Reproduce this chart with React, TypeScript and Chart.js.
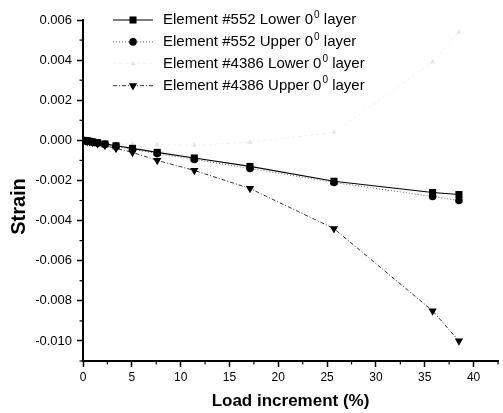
import React, { useEffect, useRef } from 'react';
import { Chart, registerables } from 'chart.js';

Chart.register(...registerables);

// ---- data ----
const loadIncrement = [0, 0.3, 0.44, 0.67, 1.0, 1.5, 2.25, 3.38, 5.07, 7.6, 11.4, 17.1, 25.7, 35.8, 38.5];
const e552Lower = [0, -0.00002, -0.00003, -0.00005, -0.00008, -0.00012, -0.00018, -0.00027, -0.0004, -0.0006, -0.00088, -0.0013, -0.00204, -0.0026, -0.0027];
const e552Upper = [0, -0.00002, -0.00003, -0.00005, -0.00008, -0.00013, -0.0002, -0.0003, -0.00045, -0.00066, -0.00095, -0.0014, -0.0021, -0.0028, -0.003];
const e4386Lower = [0, -0.00001, -0.00002, -0.00003, -0.00005, -0.00007, -0.0001, -0.00014, -0.00018, -0.00022, -0.00024, -0.0001, 0.0004, 0.0039, 0.0054];
const e4386Upper = [0, -0.00003, -0.00005, -0.00007, -0.00011, -0.00017, -0.00026, -0.0004, -0.0006, -0.001, -0.0015, -0.0024, -0.0044, -0.0085, -0.01];

const legendLabels = ['Element #552 Lower 0', 'Element #552 Upper 0', 'Element #4386 Lower 0', 'Element #4386 Upper 0'];
const legendSup = '0';
const legendSuffix = ' layer';
const xTitle = 'Load increment (%)';
const yTitle = 'Strain';

const FONT = '"Liberation Sans", Arial, Helvetica, sans-serif';

function toPoints(ys: number[]) {
  return ys.map((y, i) => ({ x: loadIncrement[i], y }));
}

function drawMarker(ctx: CanvasRenderingContext2D, style: string, rot: number, x: number, y: number, r: number, color: string) {
  ctx.save();
  ctx.fillStyle = color;
  ctx.strokeStyle = color;
  ctx.beginPath();
  if (style === 'rect') {
    const s = Math.SQRT1_2 * r;
    ctx.rect(x - s, y - s, 2 * s, 2 * s);
  } else if (style === 'circle') {
    ctx.arc(x, y, r, 0, Math.PI * 2);
  } else {
    const a0 = (rot * Math.PI) / 180;
    for (let k = 0; k < 3; k++) {
      const a = a0 + (k * 2 * Math.PI) / 3;
      const px = x + Math.sin(a) * r;
      const py = y - Math.cos(a) * r;
      if (k === 0) ctx.moveTo(px, py);
      else ctx.lineTo(px, py);
    }
    ctx.closePath();
  }
  ctx.fill();
  ctx.restore();
}

const decorPlugin = {
  id: 'decor',
  afterDraw(chart: any) {
    const ctx: CanvasRenderingContext2D = chart.ctx;
    const area = chart.chartArea;
    const xs = chart.scales.x;
    const ys = chart.scales.y;
    ctx.save();
    // minor ticks
    ctx.strokeStyle = '#000';
    ctx.lineWidth = 1.2;
    for (let v = 2.5; v <= xs.max; v += 5) {
      const px = xs.getPixelForValue(v);
      ctx.beginPath();
      ctx.moveTo(px, area.bottom);
      ctx.lineTo(px, area.bottom + 3.5);
      ctx.stroke();
    }
    for (let k = -11; k <= 6; k += 2) {
      const v = k * 0.001;
      if (v < ys.min || v > ys.max) continue;
      const py = ys.getPixelForValue(v);
      ctx.beginPath();
      ctx.moveTo(area.left, py);
      ctx.lineTo(area.left - 3.5, py);
      ctx.stroke();
    }
    // axis titles
    ctx.fillStyle = '#000';
    ctx.textAlign = 'center';
    ctx.textBaseline = 'middle';
    ctx.font = 'bold 17px ' + FONT;
    ctx.fillText(xTitle, (area.left + area.right) / 2, 401);
    ctx.save();
    ctx.translate(19, chart.height / 2);
    ctx.rotate(-Math.PI / 2);
    ctx.font = 'bold 20px ' + FONT;
    ctx.fillText(yTitle, 0, 0);
    ctx.restore();

    // legend
    const x0 = area.left + 30;
    legendLabels.forEach((label, i) => {
      const ds = chart.data.datasets[i];
      const y = area.top + i * 21.9;
      ctx.save();
      ctx.strokeStyle = ds.borderColor;
      ctx.lineWidth = ds.borderWidth;
      ctx.setLineDash(ds.borderDash || []);
      ctx.beginPath();
      ctx.moveTo(x0, y);
      ctx.lineTo(x0 + 40, y);
      ctx.stroke();
      ctx.restore();
      drawMarker(ctx, ds.pointStyle, ds.pointRotation || 0, x0 + 20, y, ds.pointRadius, ds.pointBackgroundColor);
      ctx.fillStyle = '#000';
      ctx.textAlign = 'left';
      ctx.textBaseline = 'middle';
      ctx.font = '15px ' + FONT;
      const tx = x0 + 50;
      ctx.fillText(label, tx, y);
      const w1 = ctx.measureText(label).width;
      ctx.font = '10px ' + FONT;
      ctx.fillText(legendSup, tx + w1 + 1, y - 5);
      const w2 = ctx.measureText(legendSup).width;
      ctx.font = '15px ' + FONT;
      ctx.fillText(legendSuffix, tx + w1 + 1 + w2, y);
    });
    ctx.restore();
  },
};

export default function App() {
  const ref = useRef<HTMLCanvasElement | null>(null);
  useEffect(() => {
    document.body.style.margin = '0';
    const canvas = ref.current;
    if (!canvas) return;
    const chart = new Chart(canvas, {
      type: 'line',
      data: {
        datasets: [
          {
            label: legendLabels[0],
            data: toPoints(e552Lower),
            borderColor: '#000',
            borderWidth: 1.2,
            pointStyle: 'rect',
            pointRadius: 5,
            pointBackgroundColor: '#000',
            pointBorderColor: '#000',
            pointBorderWidth: 0,
          },
          {
            label: legendLabels[1],
            data: toPoints(e552Upper),
            borderColor: '#666',
            borderWidth: 1,
            borderDash: [1, 2],
            pointStyle: 'circle',
            pointRadius: 3.8,
            pointBackgroundColor: '#000',
            pointBorderColor: '#000',
            pointBorderWidth: 0,
          },
          {
            label: legendLabels[2],
            data: toPoints(e4386Lower),
            borderColor: '#f3f3f3',
            borderWidth: 1,
            borderDash: [3, 3],
            pointStyle: 'triangle',
            pointRadius: 3,
            pointBackgroundColor: '#e4e4e4',
            pointBorderColor: '#e4e4e4',
            pointBorderWidth: 0,
          },
          {
            label: legendLabels[3],
            data: toPoints(e4386Upper),
            borderColor: '#333',
            borderWidth: 1,
            borderDash: [4, 2, 1, 2],
            pointStyle: 'triangle',
            pointRotation: 180,
            pointRadius: 4.8,
            pointBackgroundColor: '#000',
            pointBorderColor: '#000',
            pointBorderWidth: 0,
          },
        ] as any,
      },
      options: {
        responsive: false,
        animation: false,
        layout: { padding: { top: 20, right: 2, left: 0, bottom: 0 } },
        plugins: { legend: { display: false }, tooltip: { enabled: false }, title: { display: false } },
        scales: {
          x: {
            type: 'linear',
            min: 0,
            max: 42.5,
            afterFit: (s: any) => {
              s.height = 52;
            },
            border: { display: true, color: '#000', width: 2 },
            grid: { drawOnChartArea: false, drawTicks: true, tickLength: 6, tickWidth: 1.5, tickColor: '#000' },
            ticks: {
              stepSize: 5,
              includeBounds: false,
              color: '#000',
              padding: 3,
              maxRotation: 0,
              font: { family: FONT, size: 12 },
            },
          },
          y: {
            type: 'linear',
            min: -0.011,
            max: 0.006,
            afterFit: (s: any) => {
              s.width = 83;
            },
            border: { display: true, color: '#000', width: 2 },
            grid: { drawOnChartArea: false, drawTicks: true, tickLength: 6, tickWidth: 1.5, tickColor: '#000' },
            ticks: {
              stepSize: 0.002,
              includeBounds: false,
              color: '#000',
              padding: 5,
              font: { family: FONT, size: 13 },
              callback: (v: any) => Number(v).toFixed(3),
            },
          },
        },
      } as any,
      plugins: [decorPlugin],
    });
    return () => chart.destroy();
  }, []);
  return <canvas ref={ref} width={503} height={413} style={{ display: 'block' }} />;
}
